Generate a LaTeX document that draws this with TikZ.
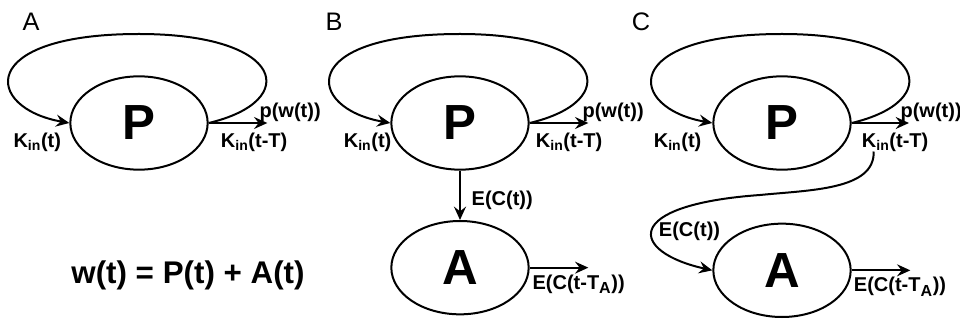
\documentclass[tikz,border=0pt]{standalone}
\usepackage{fontspec}
\setmainfont{Liberation Sans}
\usetikzlibrary{shapes.geometric, arrows.meta, positioning}

\begin{document}
\begin{tikzpicture}[
  x=0.75pt, y=-0.75pt,
  state/.style={ellipse, draw, line width=1.5pt, minimum width=103pt,
                minimum height=70pt, inner sep=0pt,
                font=\bfseries\fontsize{37}{37}\selectfont},
  lbl/.style={inner sep=0pt, font=\bfseries\fontsize{15}{15}\selectfont},
  panel/.style={inner sep=0pt, font=\fontsize{19}{19}\selectfont},
  arrow/.style={-{Stealth[length=10pt, width=9pt, inset=3.5pt]}, line width=1.5pt}
]
\useasboundingbox (0,0) rectangle (960,320);

% panel A
\node[panel] (labA) at (31,22) {A};
\node[state] (pA) at (139,123) {P};
\coordinate[right=44pt of pA.east] (outA);
\node[lbl, below left=7pt and 6pt of pA.west] (kinA) {K\textsubscript{in}(t)};
\node[lbl, below right=7pt and 9pt of pA.east] (koutA) {K\textsubscript{in}(t-T)};
\node[lbl, above right=0.5pt and -6pt of outA] (pwA) {p(w(t))};
\node[font=\bfseries\fontsize{23.5}{23.5}\selectfont] (wsum) at (188,275)
  {w(t) = P(t) + A(t)};

\draw[arrow] (pA.east) .. controls +(93,-22) and +(146,0) .. ([yshift=31pt]pA.north)
  .. controls +(-164,0) and +(-85,-15) .. (pA.west);
\draw[arrow] (pA.east) -- (outA);

% panel B
\node[panel] (labB) at (334,22) {B};
\node[state] (pB) at (460,123) {P};
\node[state, below=37pt of pB] (aB) {A};
\coordinate[right=44pt of pB.east] (outB);
\coordinate[right=44pt of aB.east] (outAB);
\node[lbl, below left=7pt and -1pt of pB.west] (kinB) {K\textsubscript{in}(t)};
\node[lbl, below right=7pt and 4.5pt of pB.east] (koutB) {K\textsubscript{in}(t-T)};
\node[lbl, above right=0.5pt and -4.5pt of outB] (pwB) {p(w(t))};
\node[lbl, below right=5pt and 2pt of aB.east] (etaB)
  {E(C(t-T\textsubscript{\fontsize{12}{12}\selectfont A}))};

\draw[arrow] (pB.east) .. controls +(93,-22) and +(146,0) .. ([yshift=31pt]pB.north)
  .. controls +(-164,0) and +(-85,-15) .. (pB.west);
\draw[arrow] (pB.east) -- (outB);
\draw[arrow] (pB.south) -- node[lbl, right=8pt, pos=0.6] (ecB) {E(C(t))} (aB.north);
\draw[arrow] (aB.east) -- (outAB);

% panel C
\node[panel] (labC) at (641,22) {C};
\node[state] (pC) at (782,123) {P};
\node[state, below=39pt of pC] (aC) {A};
\coordinate[right=43pt of pC.east] (outC);
\coordinate[right=44pt of aC.east] (outAC);
\node[lbl, below left=7pt and 8pt of pC.west] (kinC) {K\textsubscript{in}(t)};
\node[lbl, below right=7pt and 7.5pt of pC.east] (koutC) {K\textsubscript{in}(t-T)};
\node[lbl, above right=0.5pt and -6.5pt of outC] (pwC) {p(w(t))};
\node[lbl, above left=22pt and -6pt of aC.west] (ecC) {E(C(t))};
\node[lbl, below right=5pt and 1.5pt of aC.east] (etaC)
  {E(C(t-T\textsubscript{\fontsize{12}{12}\selectfont A}))};
\coordinate[xshift=9pt] (sC) at (koutC.south west);

\draw[arrow] (pC.east) .. controls +(93,-22) and +(146,0) .. ([yshift=31pt]pC.north)
  .. controls +(-164,0) and +(-85,-15) .. (pC.west);
\draw[arrow] (pC.east) -- (outC);
\draw[arrow] (sC) .. controls (875,190) and (810,190) .. (760,195)
  .. controls (620,205) and (630,252) .. (aC.west);
\draw[arrow] (aC.east) -- (outAC);

\end{tikzpicture}
\end{document}
